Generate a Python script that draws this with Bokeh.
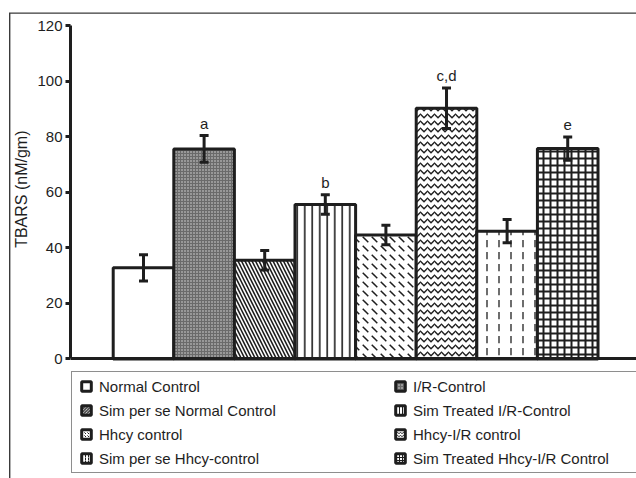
from bokeh.plotting import figure
from bokeh.models import (ColumnDataSource, Range1d, FixedTicker, Whisker, TeeHead,
                          LabelSet, Legend, LegendItem, LinearAxis, Title)
from bokeh.core.properties import value
from bokeh.embed import file_html
from bokeh.resources import INLINE

# ---------------- data ----------------
groups = ["Normal Control", "I/R-Control", "Sim per se Normal Control",
          "Sim Treated I/R-Control", "Hhcy control", "Hhcy-I/R control",
          "Sim per se Hhcy-control", "Sim Treated Hhcy-I/R Control"]
tbars = [32.8, 75.6, 35.5, 55.6, 44.6, 90.2, 46.0, 75.7]
sem = [4.7, 4.8, 3.5, 3.5, 3.5, 7.3, 4.2, 4.2]
marks = ["", "a", "", "b", "", "c,d", "", "e"]
y_ticks = [0, 20, 40, 60, 80, 100, 120]
y_title = "TBARS (nM/gm)"

# ---------------- styles ----------------
FONT = "Liberation Sans"
INK = "#1e1e1e"
fills = ["white", "#6a6a6a", "white", "white", "white", "white", "white", "white"]
patterns = [" ", ".", "\\", "|", "`", "v", ":", "+"]
hatch_colors = [INK, "#dcdcdc", INK, INK, INK, INK, INK, INK]
hatch_scales = [8, 3, 7, 7.5, 9, 7, 12, 7]
hatch_weights = [1, 1, 1.6, 1.6, 1.5, 1.4, 1.3, 2.0]

X_LO, X_HI = -1.2046, 8.135   # horizontal view window
Y_LO = -43.0                  # room for the legend under the bars

xs = list(range(len(groups)))
src = ColumnDataSource(dict(
    x=xs, top=tbars,
    upper=[v + e for v, e in zip(tbars, sem)],
    lower=[v - e for v, e in zip(tbars, sem)],
    mark=marks, fill=fills, pat=patterns, hc=hatch_colors,
    hs=hatch_scales, hw=hatch_weights,
))

p = figure(width=636, height=478, output_backend="svg", toolbar_location=None,
           x_range=Range1d(X_LO, X_HI), y_range=Range1d(Y_LO, 120),
           x_axis_location=None, y_axis_location=None,
           min_border_left=70, min_border_right=0, min_border_top=25,
           min_border_bottom=0)
p.outline_line_color = None
p.grid.visible = False
p.background_fill_alpha = 0
p.border_fill_alpha = 0
# thin outer frame (left and top edges) of the figure panel
p.styles = {"box-shadow": "inset 9px 12.4px 0 0 #ffffff, inset 10.4px 13.7px 0 0 #3a3a3a"}

p.vbar(x="x", top="top", width=1.0, bottom=0, source=src,
       fill_color="fill", line_color=INK, line_width=3,
       hatch_pattern="pat", hatch_color="hc", hatch_scale="hs", hatch_weight="hw")

cap = dict(size=9, line_width=3, line_color=INK)
p.add_layout(Whisker(base="x", upper="upper", lower="lower", source=src,
                     line_width=3, line_color=INK, level="overlay",
                     upper_head=TeeHead(**cap), lower_head=TeeHead(**cap)))

p.add_layout(LabelSet(x="x", y="upper", text="mark", source=src, y_offset=7,
                      text_align="center", text_baseline="alphabetic",
                      text_font=value(FONT), text_font_size="15px", text_color=INK))

# axes
ya = LinearAxis(bounds=(0, 120), ticker=FixedTicker(ticks=y_ticks))
ya.major_label_text_font = FONT
ya.major_label_text_font_size = "15px"
ya.major_label_text_color = INK
ya.major_label_standoff = 3
ya.axis_line_width = 3
ya.axis_line_color = INK
ya.major_tick_line_width = 3
ya.major_tick_line_color = INK
ya.major_tick_in = 0
ya.major_tick_out = 5
ya.minor_tick_line_color = None
p.add_layout(ya, "left")

# y-axis title, centred on the 0-120 part of the axis
p.add_layout(Title(text=y_title, align="right", offset=105, vertical_align="bottom",
                   standoff=10, text_font=FONT, text_font_size="16px",
                   text_font_style="normal", text_color=INK), "left")

xa = LinearAxis(fixed_location=0, ticker=FixedTicker(ticks=[]))
xa.axis_line_width = 3
xa.axis_line_color = INK
xa.major_tick_line_color = None
xa.minor_tick_line_color = None
xa.major_label_text_font_size = "0px"
p.add_layout(xa, "below")

# legend from marker-only proxies (no visible data point)
nan = float("nan")
items = []
for g, f, pt, hc in zip(groups, fills, patterns, hatch_colors):
    r = p.scatter(x=[nan], y=[nan], marker="square", size=10, fill_color=f,
                  line_color=INK, line_width=3, hatch_pattern=pt,
                  hatch_color=hc, hatch_scale=3, hatch_weight=1)
    items.append(LegendItem(label=g, renderers=[r]))

legend = Legend(items=items, location=(1, 5), orientation="horizontal", ncols=2,
                glyph_width=24, glyph_height=24, label_standoff=1,
                label_width=289, label_height=24, spacing=0, padding=2, margin=0,
                border_line_color=INK, border_line_width=1.5,
                background_fill_color="white", background_fill_alpha=1,
                label_text_font=FONT, label_text_font_size="15px",
                label_text_color=INK)
p.add_layout(legend, "center")

open("out.html", "w").write(file_html(p, INLINE))
